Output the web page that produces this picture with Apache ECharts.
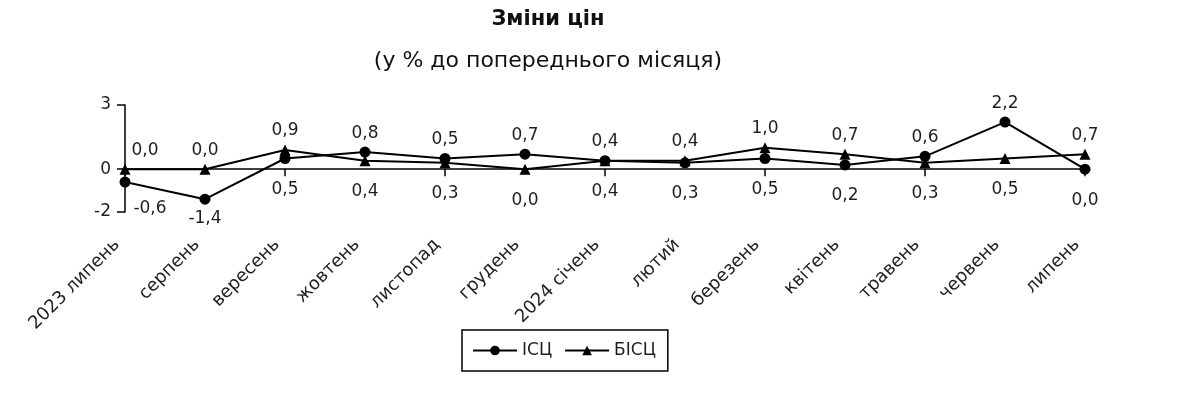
<!DOCTYPE html>
<html>
<head>
<meta charset="utf-8">
<script src="https://cdn.jsdelivr.net/npm/echarts@6/dist/echarts.min.js"></script>
<style>
html,body{margin:0;padding:0;background:#fff;}
#chart{width:1200px;height:395px;}
</style>
</head>
<body>
<div id="chart"></div>
<script>
var categories = ['2023 липень','серпень','вересень','жовтень','листопад','грудень','2024 січень','лютий','березень','квітень','травень','червень','липень'];
var cpiValues = [-0.6, -1.4, 0.5, 0.8, 0.5, 0.7, 0.4, 0.3, 0.5, 0.2, 0.6, 2.2, 0.0];
var coreValues = [0.0, 0.0, 0.9, 0.4, 0.3, 0.0, 0.4, 0.4, 1.0, 0.7, 0.3, 0.5, 0.7];
var yTickLabels = [-2, 0, 3];

var FONT = 'DejaVu Sans';
var TXT = '#1f1f1f';

function fmt(v){ return v.toFixed(1).replace('.', ','); }

function buildData(own, other, preferTop){
  return own.map(function(v, i){
    var top = preferTop ? v >= other[i] : v > other[i];
    var lbl;
    if (top) {
      lbl = {position: 'top', distance: 5};
    } else if (v < 0) {
      lbl = {position: 'bottom', distance: 5};
    } else {
      lbl = {position: 'bottom', distance: 17};
    }
    // first category sits on the value axis: labels shifted right, as in the source
    if (i === 0) {
      lbl.offset = top ? [20, 0] : [25, 8];
    }
    return {value: v, label: lbl};
  });
}

var chart = echarts.init(document.getElementById('chart'), null, {renderer: 'canvas'});
var gridL = 125, gridR = 115, gridT = 105, gridB = 183;

var option = {
  animation: false,
  backgroundColor: '#fff',
  title: {
    text: 'Зміни цін',
    subtext: '(у % до попереднього місяця)',
    left: 543,
    textAlign: 'center',
    top: 4,
    itemGap: 20,
    textStyle: {fontFamily: FONT, fontSize: 21, fontWeight: 'bold', color: '#111'},
    subtextStyle: {fontFamily: FONT, fontSize: 22, color: '#111'}
  },
  legend: {
    left: 462,
    top: 330,
    itemWidth: 44,
    itemHeight: 12,
    itemGap: 12,
    padding: [12, 12, 12, 10],
    borderColor: '#000',
    borderWidth: 1.5,
    textStyle: {fontFamily: FONT, fontSize: 17, color: TXT},
    data: ['ІСЦ', 'БІСЦ']
  },
  grid: [
    {left: gridL, right: gridR, top: gridT, bottom: gridB, containLabel: false},
    {left: gridL - 8, right: gridR + 8, top: gridT, bottom: gridB, containLabel: false}
  ],
  xAxis: [
    {
      type: 'category', gridIndex: 0, data: categories, boundaryGap: false,
      axisLine: {onZero: true, lineStyle: {color: '#000', width: 1.5}},
      axisTick: {show: true, length: 7, lineStyle: {color: '#000', width: 1.5}},
      axisLabel: {show: false},
      splitLine: {show: false}
    },
    {
      type: 'category', gridIndex: 1, data: categories, boundaryGap: false,
      position: 'bottom',
      axisLine: {show: false, onZero: false},
      axisTick: {show: false},
      axisLabel: {show: true, interval: 0, rotate: 45, margin: 30, fontFamily: FONT, fontSize: 18, color: TXT},
      splitLine: {show: false}
    }
  ],
  yAxis: [
    {
      type: 'value', gridIndex: 0, min: -2, max: 3, interval: 1,
      axisLine: {show: true, lineStyle: {color: '#000', width: 1.5}},
      axisTick: {show: true, length: 8, customValues: yTickLabels, lineStyle: {color: '#000', width: 1.5}},
      axisLabel: {show: true, customValues: yTickLabels, margin: 14, fontFamily: FONT, fontSize: 17, color: TXT},
      splitLine: {show: false}
    },
    {
      type: 'value', gridIndex: 1, min: -2, max: 3, interval: 1, show: false
    }
  ],
  series: [
    {
      name: 'ІСЦ', type: 'line', xAxisIndex: 0, yAxisIndex: 0,
      data: buildData(cpiValues, coreValues, true),
      symbol: 'circle', symbolSize: 11,
      lineStyle: {color: '#000', width: 2},
      itemStyle: {color: '#000'},
      label: {show: true, formatter: function(p){ return fmt(p.value); }, fontFamily: FONT, fontSize: 17, color: TXT},
      z: 3
    },
    {
      name: 'БІСЦ', type: 'line', xAxisIndex: 0, yAxisIndex: 0,
      data: buildData(coreValues, cpiValues, false),
      symbol: 'triangle', symbolSize: 11,
      lineStyle: {color: '#000', width: 2},
      itemStyle: {color: '#000'},
      label: {show: true, formatter: function(p){ return fmt(p.value); }, fontFamily: FONT, fontSize: 17, color: TXT},
      z: 3
    }
  ]
};
chart.setOption(option);
</script>
</body>
</html>
